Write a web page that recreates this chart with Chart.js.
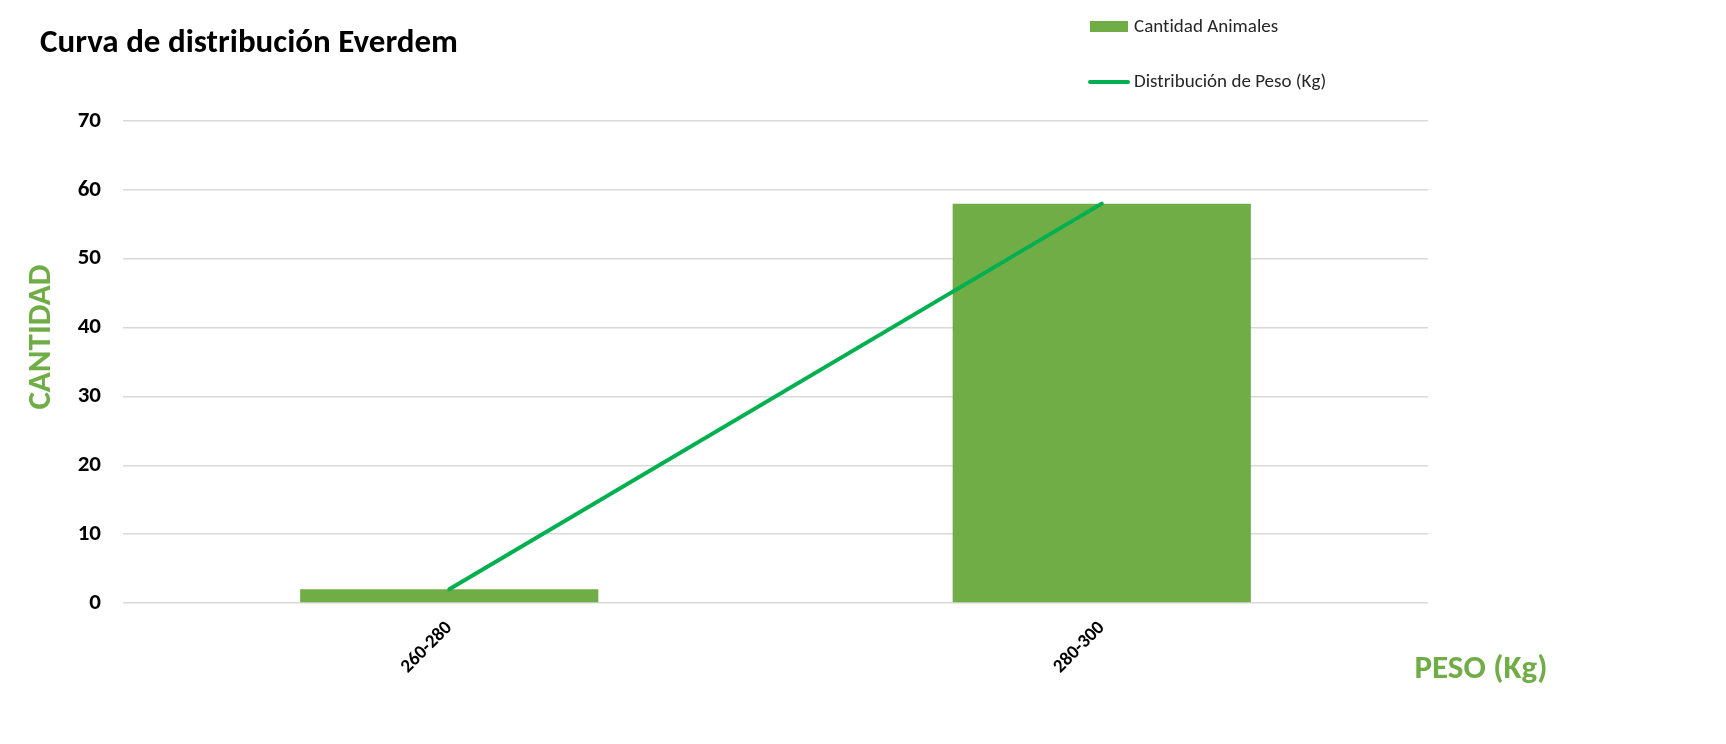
<!DOCTYPE html>
<html>
<head>
<meta charset="utf-8">
<script src="https://cdn.jsdelivr.net/npm/chart.js@4.4.1/dist/chart.umd.min.js"></script>
<style>
  html, body { margin: 0; padding: 0; background: #fff; }
  #wrap { width: 1726px; height: 744px; position: relative; }
</style>
</head>
<body>
<div id="wrap"><canvas id="myChart" width="1726" height="744"></canvas></div>
<script>
const categorias = ["260-280", "280-300"]
const cantidadAnimales = [2, 58]
const distribucionPeso = [2, 58]
const ticksY = [0, 10, 20, 30, 40, 50, 60, 70]

const tituloGrafica = "Curva de distribución Everdem"
const tituloY = "CANTIDAD"
const tituloX = "PESO (Kg)"

const verdeBarra = "#70AD47"
const verdeLinea = "#00B050"
const fuente = "Carlito, Lato, sans-serif"

const chartDOM = document.getElementById("myChart").getContext("2d")

// titulo, leyenda y titulos de ejes dibujados a mano
const extras = {
    id: "extras",
    afterDraw(chart) {
        const ctx = chart.ctx
        ctx.save()
        ctx.letterSpacing = "0.01px" // sin ligaduras "ti"
        ctx.fillStyle = "#000"
        ctx.font = "bold 33px " + fuente
        ctx.textBaseline = "middle"
        ctx.textAlign = "left"
        ctx.fillText(tituloGrafica, 40, 44)

        // leyenda
        const sets = chart.data.datasets
        ctx.font = "19px " + fuente
        ctx.fillStyle = verdeBarra
        ctx.fillRect(1090, 21, 38, 11)
        ctx.fillStyle = "#262626"
        ctx.fillText(sets[1].label, 1134, 27)
        ctx.strokeStyle = verdeLinea
        ctx.lineWidth = 4
        ctx.lineCap = "round"
        ctx.beginPath()
        ctx.moveTo(1090, 82)
        ctx.lineTo(1128, 82)
        ctx.stroke()
        ctx.fillText(sets[0].label, 1134, 82)

        // titulos de ejes
        ctx.fillStyle = verdeBarra
        ctx.font = "bold 33px " + fuente
        ctx.textAlign = "center"
        ctx.fillText(tituloX, 1481, 670)
        ctx.translate(42, 337)
        ctx.rotate(-Math.PI / 2)
        ctx.fillText(tituloY, 0, 0)
        ctx.restore()
    }
}

const datasets = [
    {
        type: "line",
        label: "Distribución de Peso (Kg)",
        data: distribucionPeso,
        borderColor: verdeLinea,
        backgroundColor: verdeLinea,
        borderWidth: 4,
        borderCapStyle: "round",
        pointRadius: 0,
        tension: 0,
        order: 0
    },
    {
        type: "bar",
        label: "Cantidad Animales",
        data: cantidadAnimales,
        backgroundColor: verdeBarra,
        categoryPercentage: 1,
        barPercentage: 0.457,
        order: 1
    }
]

const config = {
    type: "bar",
    data: { labels: categorias, datasets },
    options: {
        responsive: false,
        animation: false,
        layout: { padding: { top: 121, right: 298, bottom: 0, left: 0 } },
        plugins: {
            legend: { display: false },
            title: { display: false },
            tooltip: { enabled: false }
        },
        scales: {
            x: {
                afterFit: s => { s.height = 141 },
                grid: { display: false, drawTicks: false },
                border: { display: false },
                ticks: {
                    color: "#000",
                    font: { family: fuente, size: 19, weight: "bold" },
                    minRotation: 45,
                    maxRotation: 45,
                    padding: 14
                }
            },
            y: {
                min: 0,
                max: 70,
                afterFit: s => { s.width = 123 },
                afterBuildTicks: s => { s.ticks = ticksY.map(v => ({ value: v })) },
                grid: { color: "#d9d9d9", lineWidth: 1.5, drawTicks: false },
                border: { display: false },
                ticks: {
                    color: "#000",
                    font: { family: fuente, size: 23, weight: "bold" },
                    padding: 22
                }
            }
        }
    },
    plugins: [extras]
}

new Chart(chartDOM, config)
</script>
</body>
</html>
